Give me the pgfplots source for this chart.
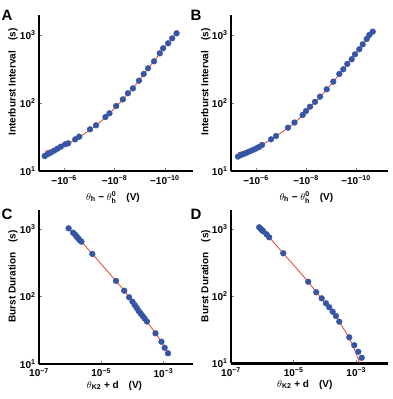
\documentclass[border=0pt]{standalone}
\usepackage{pgfplots}
\pgfplotsset{compat=1.18}
\usepackage{fontspec}
\setmainfont{Liberation Sans}
\definecolor{dotblue}{RGB}{55,85,165}
\definecolor{fitred}{RGB}{235,65,40}
\pgfplotsset{
  mypanel/.style={
    scale only axis, clip=false,
    axis x line*=bottom, axis y line*=left,
    axis line style={line width=2.8pt, black, -},
    every outer x axis line/.append style={line width=2.8pt, black, -},
    every outer y axis line/.append style={line width=2.8pt, black, -},
    every inner x axis line/.append style={line width=2.8pt, black, -},
    every inner y axis line/.append style={line width=2.8pt, black, -},
    tick style={gray, thin}, major tick length=3pt, tick align=inside,
    ymin=10,
    ytick={10,100,1000},
    yticklabels={10\textsuperscript{1},10\textsuperscript{2},10\textsuperscript{3}},
    yminorticks=false, xminorticks=false,
    ticklabel style={font=\bfseries\fontsize{10}{12}\selectfont},
    xticklabel style={yshift=-1pt},
    label style={font=\bfseries\fontsize{10}{12}\selectfont},
  },
  mydots/.style={only marks, mark=*, mark size=2.9pt, color=dotblue, mark options={draw=dotblue, fill=dotblue}},
  myfit/.style={no marks, color=fitred, line width=0.8pt},
}
\begin{document}
\begin{tikzpicture}
\useasboundingbox (0,0) rectangle (392pt,-399pt);
% ---------- A ----------
\begin{axis}[mypanel, ymode=log, at={(39pt,-171pt)}, anchor=south west, width=154pt, height=156pt,
  xmin=5.0, xmax=11.12, ymax=1968,
  xtick={6,8,10}, xticklabels={−10\textsuperscript{−6},−10\textsuperscript{−8},−10\textsuperscript{−10}},
  ylabel={Interburst Interval\quad(s)},
  ylabel style={at={(axis description cs:-0.169,0.57)}, anchor=center},
  xlabel={$\theta_{\mathbf{h}}$ \textbf{−} $\theta_{\mathbf{h}}^{\mathbf{0}}$\quad(V)},
  xlabel style={at={(axis description cs:0.48,-0.17)}, anchor=center},
]
\addplot[mydots] coordinates {
(5.227,16.6)(5.333,17.6)(5.467,18.6)(5.6,19.9)(5.733,21.3)(5.867,22.8)(6.04,24.7)(6.16,25.5)
(6.44,29.2)(6.6,32.0)(7.027,41.0)(7.267,47.0)(7.64,62.2)(7.8,70.5)(8.067,90.4)(8.333,113)
(8.533,139)(8.733,164)(8.973,213)(9.16,267)(9.333,324)(9.573,410)(9.8,537)(9.933,637)
(10.133,755)(10.293,893)(10.467,1059)};
\addplot[myfit] coordinates {
(5.23,19.5)(5.5,20.6)(5.8,22.2)(6.1,24.6)(6.44,28.8)(6.6,31.5)(7.027,40)(7.267,47)(7.64,61)
(7.8,70)(8.067,89)(8.333,112)(8.533,138)(8.733,166)(8.973,211)(9.16,266)(9.333,322)
(9.573,410)(9.8,530)(9.933,630)(10.133,755)(10.293,890)(10.467,1060)};
\end{axis}
% ---------- B ----------
\begin{axis}[mypanel, ymode=log, at={(231pt,-171pt)}, anchor=south west, width=157pt, height=156pt,
  xmin=5.0, xmax=11.28, ymax=1968,
  xtick={6,8,10}, xticklabels={−10\textsuperscript{−6},−10\textsuperscript{−8},−10\textsuperscript{−10}},
  ylabel={Interburst Interval\quad(s)},
  ylabel style={at={(axis description cs:-0.16,0.57)}, anchor=center},
  xlabel={$\theta_{\mathbf{h}}$ \textbf{−} $\theta_{\mathbf{h}}^{\mathbf{0}}$\quad(V)},
  xlabel style={at={(axis description cs:0.48,-0.17)}, anchor=center},
]
\addplot[mydots] coordinates {
(5.28,16.3)(5.4,17.2)(5.52,17.9)(5.64,18.7)(5.76,19.5)(5.88,20.4)(6.0,21.4)(6.12,22.5)(6.24,24.1)
(6.6,29.2)(6.8,32.7)(7.28,43.4)(7.54,51.6)(7.868,66.7)(8.0,76.2)(8.16,88.3)(8.36,104)(8.56,124)
(8.828,159)(9.092,206)(9.332,267)(9.492,313)(9.652,375)(9.828,440)(9.96,520)(10.132,617)
(10.268,730)(10.428,873)(10.532,1000)(10.668,1119)};
\addplot[myfit] coordinates {
(5.29,18.6)(5.6,19.8)(5.9,21.5)(6.24,24.5)(6.6,29)(6.8,32.5)(7.28,43)(7.54,51)(7.868,66)
(8.16,86)(8.56,122)(8.828,158)(9.092,205)(9.332,265)(9.652,375)(9.96,520)(10.268,730)
(10.532,980)(10.668,1119)};
\end{axis}
% ---------- C ----------
\begin{axis}[mypanel, xmode=log, ymode=log, at={(39pt,-364pt)}, anchor=south west, width=154pt, height=154pt,
  xmin=1e-7, xmax=8.95e-3, ymax=1910,
  xtick={1e-7,1e-5,1e-3}, xticklabels={10\textsuperscript{−7},10\textsuperscript{−5},10\textsuperscript{−3}},
  ylabel={Burst Duration\quad(s)},
  ylabel style={at={(axis description cs:-0.169,0.57)}, anchor=center},
  xlabel={$\theta$\textsubscript{K2} + d\quad(V)},
  xlabel style={at={(axis description cs:0.49,-0.14)}, anchor=center},
]
\addplot[mydots] coordinates {
(8.95e-7,1023)(1.245e-6,881)(1.442e-6,829)(1.607e-6,774)(1.795e-6,736)(2.004e-6,687)(2.317e-6,649)
(5.18e-6,427)(2.99e-5,170)(5.50e-5,122)(7.91e-5,97.3)(1.014e-4,83.7)(1.199e-4,74.8)(1.390e-4,67.6)
(1.607e-4,61.0)(1.862e-4,56.0)(2.153e-4,51.4)(2.495e-4,47.2)(2.951e-4,42.6)(5.57e-4,28.5)
(8.65e-4,21.4)(1.099e-3,17.4)(1.409e-3,14.4)};
\addplot[myfit] coordinates {
(8.95e-7,1023)(1.245e-6,881)(2.317e-6,649)(5.18e-6,427)(2.99e-5,170)(5.50e-5,122)(7.91e-5,97.3)
(1.390e-4,67.6)(2.495e-4,47.2)(5.57e-4,28.5)(8.65e-4,21.4)(1.099e-3,17.4)(1.409e-3,14.4)};
\end{axis}
% ---------- D ----------
\begin{axis}[mypanel, xmode=log, ymode=log, at={(231pt,-363.3pt)}, anchor=south west, width=157pt, height=153.3pt,
  xmin=1e-7, xmax=1.03e-2, ymax=1942,
  xtick={1e-7,1e-5,1e-3}, xticklabels={10\textsuperscript{−7},10\textsuperscript{−5},10\textsuperscript{−3}},
  ylabel={Burst Duration\quad(s)},
  ylabel style={at={(axis description cs:-0.16,0.57)}, anchor=center},
  xlabel={$\theta$\textsubscript{K2} + d\quad(V)},
  xlabel style={at={(axis description cs:0.47,-0.14)}, anchor=center},
]
\addplot[mydots] coordinates {
(7.96e-7,1072)(9.02e-7,1009)(9.93e-7,966)(1.069e-6,933)(1.371e-6,841)(1.660e-6,760)(4.66e-6,439)
(2.92e-5,165)(5.27e-5,115)(7.85e-5,93.3)(1.076e-4,78.6)(1.371e-4,68.6)(1.762e-4,58.9)(2.244e-4,50.8)
(2.864e-4,41.8)(5.97e-4,24.4)(8.63e-4,18.6)(1.159e-3,14.9)(1.489e-3,12.1)};
\addplot[myfit] coordinates {
(7.96e-7,1072)(1.069e-6,933)(1.660e-6,760)(4.66e-6,439)(2.92e-5,165)(5.27e-5,115)(7.85e-5,93.3)
(1.371e-4,68.6)(2.864e-4,41.8)(5.97e-4,24.0)(8.91e-4,15.8)(1.312e-3,10)};
\end{axis}
% panel letters
\node[font=\bfseries\fontsize{15}{15}\selectfont] at (7pt,-15pt) {A};
\node[font=\bfseries\fontsize{15}{15}\selectfont] at (196pt,-15pt) {B};
\node[font=\bfseries\fontsize{15}{15}\selectfont] at (7pt,-214pt) {C};
\node[font=\bfseries\fontsize{15}{15}\selectfont] at (196pt,-214pt) {D};
\end{tikzpicture}
\end{document}
